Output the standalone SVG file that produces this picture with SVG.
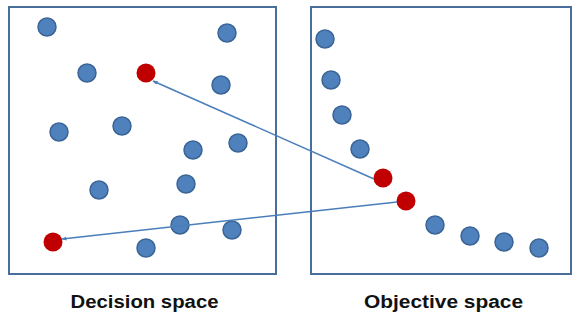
<svg xmlns="http://www.w3.org/2000/svg" width="573" height="320" viewBox="0 0 573 320">
<style>
.box{fill:#fff;stroke:#4A6E9A;stroke-width:2}
.b{fill:#4F81BD;stroke:#3A6496;stroke-width:1.5}
.r{fill:#C00000;stroke:none}
.c{fill:none;stroke:#4A7EBB;stroke-width:1.5}
.t{font-family:"Liberation Sans",Arial,sans-serif;font-weight:bold;font-size:18px;fill:#111;text-anchor:middle}
</style>
<defs>
<marker id="ah" viewBox="0 0 10 10" refX="9" refY="5" markerWidth="5" markerHeight="5" orient="auto" markerUnits="userSpaceOnUse">
<path d="M0,1 L10,5 L0,9 z" fill="#4A7EBB"/>
</marker>
</defs>
<g id="decision-space">
<rect class="box" x="9" y="7" width="267" height="267"/>
<circle class="b" cx="47" cy="27" r="9"/>
<circle class="b" cx="227" cy="33" r="9"/>
<circle class="b" cx="87" cy="73" r="9"/>
<circle class="b" cx="221" cy="85" r="9"/>
<circle class="b" cx="59" cy="132" r="9"/>
<circle class="b" cx="122" cy="126" r="9"/>
<circle class="b" cx="193" cy="150" r="9"/>
<circle class="b" cx="238" cy="143" r="9"/>
<circle class="b" cx="99" cy="190" r="9"/>
<circle class="b" cx="186" cy="184" r="9"/>
<circle class="b" cx="180" cy="225" r="9"/>
<circle class="b" cx="232" cy="230" r="9"/>
<circle class="b" cx="146" cy="248" r="9"/>
<circle class="r" id="d1" cx="146" cy="73" r="9.5"/>
<circle class="r" id="d2" cx="53" cy="242" r="9.5"/>
</g>
<g id="objective-space">
<rect class="box" x="311" y="7" width="260" height="267"/>
<circle class="b" cx="325" cy="39" r="9"/>
<circle class="b" cx="331" cy="80" r="9"/>
<circle class="b" cx="342" cy="115" r="9"/>
<circle class="b" cx="360" cy="149" r="9"/>
<circle class="b" cx="435" cy="225" r="9"/>
<circle class="b" cx="470" cy="236" r="9"/>
<circle class="b" cx="504" cy="242" r="9"/>
<circle class="b" cx="539" cy="248" r="9"/>
<circle class="r" id="o1" cx="383" cy="178" r="9.5"/>
<circle class="r" id="o2" cx="406" cy="201" r="9.5"/>
</g>
<g id="connectors">
<line class="c" x1="374" y1="179" x2="153" y2="81" marker-end="url(#ah)"/>
<line class="c" x1="397" y1="202" x2="62" y2="239" marker-end="url(#ah)"/>
</g>
<g id="labels">
<text class="t" x="144.5" y="308" textLength="148" lengthAdjust="spacingAndGlyphs">Decision space</text>
<text class="t" x="443.5" y="308" textLength="159" lengthAdjust="spacingAndGlyphs">Objective space</text>
</g>
</svg>
